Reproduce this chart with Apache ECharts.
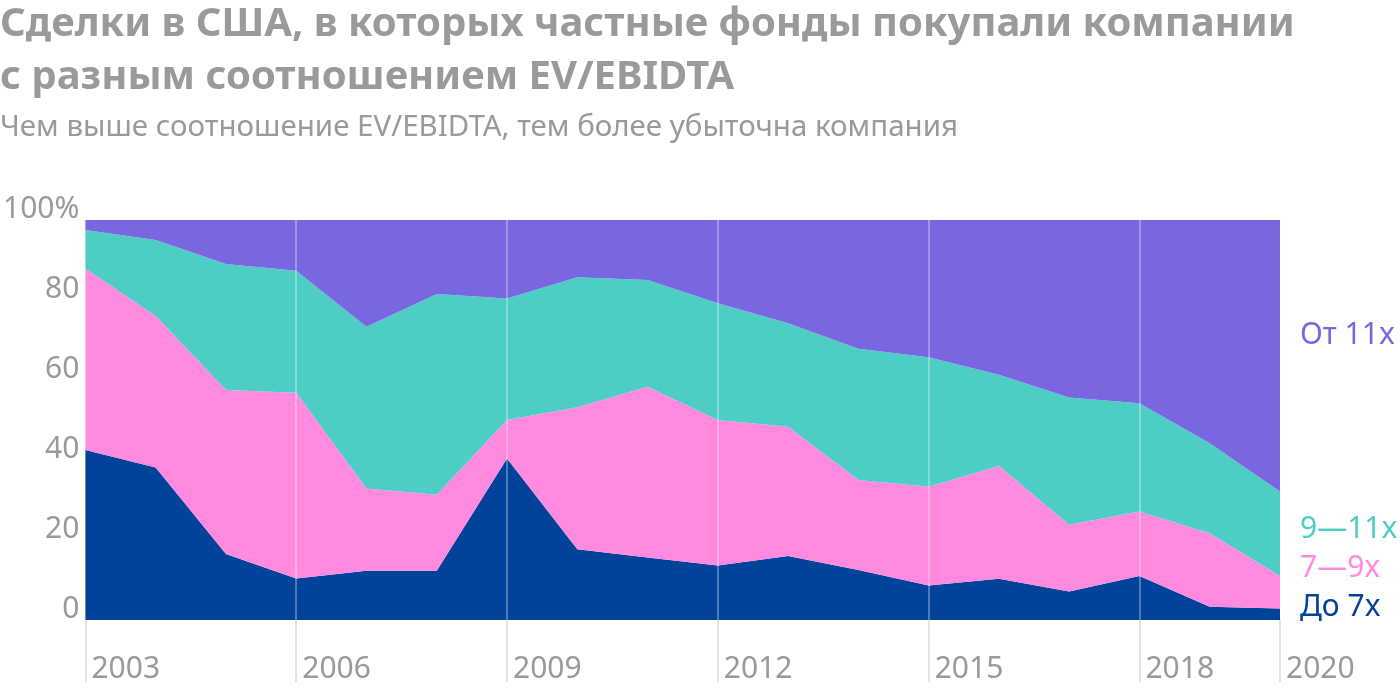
<!DOCTYPE html>
<html>
<head>
<meta charset="utf-8">
<script src="https://cdn.jsdelivr.net/npm/echarts@6/dist/echarts.min.js"></script>
<style>
html,body{margin:0;padding:0;background:#fff;}
#c{width:1400px;height:692px;}
</style>
</head>
<body>
<div id="c"></div>
<script>
const years = ['2003','2004','2005','2006','2007','2008','2009','2010','2011','2012','2013','2014','2015','2016','2017','2018','2019','2020'];
const upTo7 = [42.5, 38.1, 16.5, 10.4, 12.3, 12.3, 40.4, 17.7, 15.6, 13.6, 16.0, 12.5, 8.6, 10.3, 7.1, 11.0, 3.3, 2.9];
const from7to9 = [45.4, 37.9, 41.0, 46.4, 20.6, 19.0, 9.6, 35.5, 42.7, 36.4, 32.3, 22.5, 24.7, 28.2, 16.7, 16.1, 18.4, 8.1];
const from9to11 = [9.6, 19.0, 31.5, 30.5, 40.4, 50.2, 30.4, 32.5, 26.7, 29.2, 25.9, 32.8, 32.4, 22.8, 31.8, 27.1, 22.5, 21.1];
const from11 = [2.5, 5.0, 11.0, 12.7, 26.7, 18.5, 19.6, 14.3, 15.0, 20.8, 25.8, 32.2, 34.3, 38.7, 44.4, 45.8, 55.8, 67.9];
const seriesNames = ['До 7x', '7—9x', '9—11x', 'От 11x'];
const yTicks = [0, 20, 40, 60, 80, 100];
const gridYears = ['2006','2009','2012','2015','2018'];

const colors = ['#01439A', '#FF8AE0', '#4ECDC4', '#7966E1'];
const grey = '#9a9a9a';
const font = '"Noto Sans", "Open Sans", Roboto, sans-serif';
const showIdx = (i) => i % 3 === 0 || i === years.length - 1;

const chart = echarts.init(document.getElementById('c'), null, {renderer: 'canvas'});
const dataSets = [upTo7, from7to9, from9to11, from11];
const series = dataSets.map((d, i) => ({
  name: seriesNames[i],
  type: 'line',
  stack: 'total',
  data: d,
  symbol: 'none',
  lineStyle: {width: 0},
  areaStyle: {color: colors[i], opacity: 1},
  itemStyle: {color: colors[i]},
  silent: true,
  z: 2
}));
series[3].markLine = {
  silent: true,
  symbol: 'none',
  label: {show: false},
  lineStyle: {color: 'rgba(255,255,255,0.3)', width: 2, type: 'solid'},
  data: gridYears.map(y => ({xAxis: y})),
  z: 5
};

chart.setOption({
  animation: false,
  grid: {left: 83, right: 120, top: 220, bottom: 72, containLabel: false},
  xAxis: {
    type: 'category',
    data: years,
    boundaryGap: false,
    axisLine: {show: false},
    axisTick: {show: true, length: 62, interval: (i) => showIdx(i), lineStyle: {color: '#e4e4e4', width: 2}},
    axisLabel: {
      interval: (i) => showIdx(i),
      align: 'left',
      margin: 34,
      padding: [0, 0, 0, 6],
      color: grey,
      fontSize: 30,
      fontFamily: font
    },
    splitLine: {show: false}
  },
  yAxis: {
    type: 'value',
    min: 0,
    max: 100,
    interval: 20,
    axisLine: {show: false},
    axisTick: {show: false},
    splitLine: {show: false},
    axisLabel: {
      margin: 6,
      color: grey,
      fontSize: 30,
      fontFamily: font,
      verticalAlign: 'bottom',
      lineHeight: 22,
      formatter: (v) => v === 100 ? v + '%' : String(v)
    }
  },
  series: series,
  graphic: [
    {type: 'text', left: 0, top: -2, style: {text: 'Сделки в США, в которых частные фонды покупали компании\nс разным соотношением EV/EBIDTA', fill: grey, font: 'bold 40px ' + font, lineHeight: 53}},
    {type: 'text', left: 0, top: 113, style: {text: 'Чем выше соотношение EV/EBIDTA, тем более убыточна компания', fill: grey, font: '29.5px ' + font}},
    {type: 'text', left: 1300, top: 320, style: {text: seriesNames[3], fill: colors[3], font: '30px ' + font}},
    {type: 'text', left: 1300, top: 514, style: {text: seriesNames[2], fill: colors[2], font: '30px ' + font}},
    {type: 'text', left: 1300, top: 553, style: {text: seriesNames[1], fill: colors[1], font: '30px ' + font}},
    {type: 'text', left: 1300, top: 592, style: {text: seriesNames[0], fill: colors[0], font: '30px ' + font}}
  ]
});
</script>
</body>
</html>
